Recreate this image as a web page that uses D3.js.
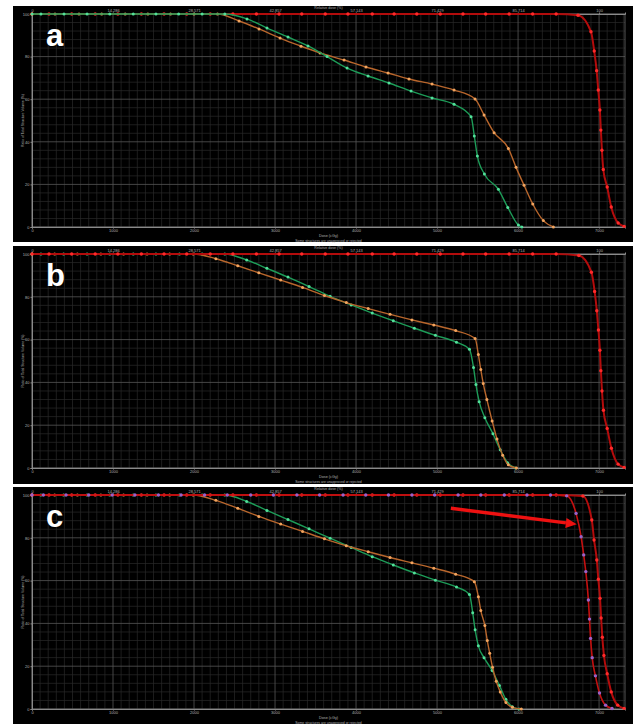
<!DOCTYPE html>
<html>
<head>
<meta charset="utf-8">
<script src="https://cdn.jsdelivr.net/npm/d3@7"></script>
<style>
  body { margin: 0; background: #fff; }
  svg { display: block; font-family: 'Liberation Sans', Arial, sans-serif; }
</style>
</head>
<body>
<svg id="chart" width="633" height="724"></svg>
<script>
(function (d3) {
  'use strict'
  // data [[[1
  const doseTicks = [0, 1000, 2000, 3000, 4000, 5000, 6000, 7000]
  const relDoseLabels = ['0', '14,286', '28,571', '42,857', '57,143', '71,429', '85,714', '100']
  const volumeTicks = [0, 20, 40, 60, 80, 100]
  const panelLetters = ['a', 'b', 'c']

  // [dose cGy, volume %] (one pair per marker)
  const redA = [[0, 100], [210, 100], [490, 100], [780, 100], [1060, 100], [1350, 100], [1630, 100], [1910, 100],
    [2200, 100], [2480, 100], [2770, 100], [3050, 100], [3330, 100], [3620, 100], [3900, 100], [4200, 100],
    [4470, 100], [4750, 100], [5040, 100], [5320, 100], [5600, 100], [5890, 100], [6180, 100], [6470, 100],
    [6740, 99.4], [6900, 91.7], [6940, 82.6], [6970, 73.4], [6990, 64.3], [7010, 54.9], [7022, 45.5],
    [7035, 36], [7052, 27], [7100, 18.8], [7150, 9.4], [7235, 1.9], [7310, 0.3]]
  const greenA = [[0, 100], [110, 100], [395, 100], [680, 100], [960, 100], [1250, 100], [1530, 100], [1810, 100],
    [2100, 100], [2380, 100], [2654, 97.7], [2901, 93.4], [3160, 89.2], [3407, 85.0], [3642, 80.0], [3889, 74.6],
    [4148, 70.9], [4407, 67.6], [4679, 63.8], [4938, 60.6], [5210, 57.6], [5420, 51.8], [5460, 42.7],
    [5498, 33.3], [5584, 24.9], [5757, 17.7], [5873, 9.2], [6004, 0.9], [6046, 0]]
  const orangeA = [[0, 100], [284, 100], [580, 100], [860, 100], [1150, 100], [1430, 100], [1710, 100], [2000, 100],
    [2290, 100], [2556, 96.7], [2802, 93], [3062, 88.7], [3321, 84.9], [3556, 81.7], [3852, 78.4], [4123, 75.1],
    [4395, 72.3], [4654, 69.5], [4938, 67.1], [5210, 64.3], [5469, 60.1], [5580, 52.6], [5704, 44.3],
    [5880, 36.9], [5975, 28], [6074, 19.6], [6181, 10.8], [6312, 3], [6436, 0]]

  const redB = [[0, 100], [210, 100], [490, 100], [780, 100], [1060, 100], [1350, 100], [1630, 100], [1910, 100],
    [2200, 100], [2480, 100], [2770, 100], [3050, 100], [3330, 100], [3620, 100], [3900, 100], [4200, 100],
    [4470, 100], [4750, 100], [5040, 100], [5320, 100], [5600, 100], [5890, 100], [6180, 100], [6470, 100],
    [6750, 99.3], [6905, 91.5], [6945, 82.5], [6972, 73.5], [6992, 64.5], [7010, 55], [7022, 45.5],
    [7036, 36], [7054, 27], [7100, 18.5], [7152, 9.2], [7235, 1.8], [7310, 0.3]]
  const greenB = [[0, 100], [110, 100], [390, 100], [680, 100], [960, 100], [1250, 100], [1530, 100], [1820, 100],
    [2100, 100], [2380, 100], [2650, 97.2], [2900, 93.3], [3160, 89.2], [3420, 84.8], [3680, 80.2], [3940, 76.2],
    [4200, 72.4], [4460, 68.8], [4720, 65.3], [4980, 62.0], [5240, 58.8], [5400, 55.5], [5450, 47], [5480, 39],
    [5520, 31], [5590, 23.5], [5690, 16], [5780, 8.5], [5870, 2.5], [5970, 0]]
  const orangeB = [[0, 100], [280, 100], [560, 100], [850, 100], [1130, 100], [1420, 100], [1700, 100], [1990, 100],
    [2270, 97.8], [2540, 94.5], [2800, 91.2], [3070, 87.8], [3340, 84.4], [3610, 80.6], [3880, 77.3], [4150, 74.5],
    [4420, 71.8], [4690, 69.2], [4960, 66.8], [5230, 64.2], [5470, 60.5], [5510, 53], [5540, 46], [5570, 39.5],
    [5615, 32], [5680, 22], [5740, 13.5], [5810, 6], [5880, 1.5], [5980, 0]]

  const redC = [[0, 100], [210, 100], [490, 100], [780, 100], [1060, 100], [1350, 100], [1630, 100], [1910, 100],
    [2200, 100], [2480, 100], [2770, 100], [3050, 100], [3330, 100], [3620, 100], [3900, 100], [4200, 100],
    [4470, 100], [4750, 100], [5040, 100], [5320, 100], [5600, 100], [5890, 100], [6180, 100], [6470, 100],
    [6800, 99.5], [6910, 88.3], [6938, 79], [6972, 69.6], [6991, 60.6], [7012, 51.7], [7025, 42.5],
    [7040, 33.5], [7060, 25], [7100, 16.5], [7150, 8], [7230, 1.8], [7310, 0.3]]
  const redShiftC = [[0, 100], [140, 100], [420, 100], [700, 100], [990, 100], [1270, 100], [1560, 100], [1840, 100],
    [2130, 100], [2410, 100], [2700, 100], [2980, 100], [3270, 100], [3550, 100], [3840, 100], [4120, 100],
    [4400, 100], [4690, 100], [4970, 100], [5260, 100], [5540, 100], [5830, 100], [6110, 100], [6400, 100],
    [6600, 99.6], [6716, 91.4], [6778, 80.5], [6810, 72], [6836, 64.2], [6868, 50.9], [6882, 42], [6895, 33],
    [6915, 24], [6955, 15.5], [7005, 7.5], [7080, 1.8], [7160, 0.2]]
  const greenC = [[0, 100], [110, 100], [390, 100], [680, 100], [960, 100], [1250, 100], [1530, 100], [1820, 100],
    [2100, 100], [2380, 100], [2650, 97], [2900, 92.8], [3160, 88.5], [3420, 84.2], [3680, 79.8], [3940, 75.5],
    [4200, 71.2], [4460, 67.3], [4720, 63.6], [4980, 60.2], [5240, 57], [5400, 53.5], [5440, 45], [5470, 37],
    [5510, 29.5], [5580, 24], [5680, 18], [5770, 11], [5850, 4.5], [5930, 1], [6010, 0]]
  const orangeC = [[0, 100], [280, 100], [560, 100], [850, 100], [1130, 100], [1420, 100], [1700, 100], [1990, 100],
    [2270, 97.5], [2540, 93.8], [2800, 90], [3070, 86.4], [3340, 83], [3610, 79.5], [3880, 76.3], [4150, 73.5],
    [4420, 70.8], [4690, 68.3], [4960, 65.8], [5230, 63], [5460, 59.5], [5510, 52.5], [5540, 46], [5590, 39],
    [5620, 32], [5650, 26], [5685, 19.5], [5730, 13], [5780, 8], [5850, 3], [5930, 0.8], [6040, 0]]

  // arrow in panel c, in data units (dose, volume)
  const arrowC = { from: [5170, 93.8], to: [6725, 86.3] }

  // styles [[[1
  const STYLE = {
    red: { line: '#b30c0c', dot: '#ff2a2a', width: 2, r: 1.7 },
    redShift: { line: '#c41010', dot: '#9a62c8', width: 1.6, r: 1.7 },
    green: { line: '#1d9c58', dot: '#52e09a', width: 1.4, r: 1.5 },
    orange: { line: '#b8662c', dot: '#f2a45e', width: 1.4, r: 1.5 }
  }

  const panels = [
    { top: 6, height: 236, y100: 14, y0: 227,
      series: [[redA, 'red'], [orangeA, 'orange'], [greenA, 'green']] },
    { top: 246, height: 238, y100: 254, y0: 468,
      series: [[greenB, 'green'], [orangeB, 'orange'], [redB, 'red']] },
    { top: 487, height: 237, y100: 495, y0: 709,
      series: [[greenC, 'green'], [orangeC, 'orange'], [redC, 'red'], [redShiftC, 'redShift']], arrow: arrowC }
  ]

  const svg = d3.select('#chart')
  const x = d3.scaleLinear().domain([0, 7320]).range([32, 625])

  // panel [[[1
  function drawPanel(p, i) {
    const g = svg.append('g')
    const y = d3.scaleLinear().domain([0, 100]).range([p.y0, p.y100])

    g.append('rect')
      .attr('x', 13).attr('y', p.top)
      .attr('width', 620).attr('height', p.height)
      .attr('fill', '#000')

    // grid
    g.append('g').selectAll('line')
      .data(d3.range(0, 7321, 100).filter(d => d % 1000 !== 0))
      .join('line')
      .attr('x1', d => x(d)).attr('x2', d => x(d))
      .attr('y1', y(0)).attr('y2', y(100))
      .attr('stroke', '#2a2a2a').attr('stroke-width', 0.7)
    g.append('g').selectAll('line')
      .data(d3.range(0, 101, 4).filter(d => d % 20 !== 0))
      .join('line')
      .attr('x1', x(0)).attr('x2', x(7320))
      .attr('y1', d => y(d)).attr('y2', d => y(d))
      .attr('stroke', '#2a2a2a').attr('stroke-width', 0.7)
    g.append('g').selectAll('line')
      .data(doseTicks)
      .join('line')
      .attr('x1', d => x(d)).attr('x2', d => x(d))
      .attr('y1', y(0)).attr('y2', y(100))
      .attr('stroke', '#575757').attr('stroke-width', 0.8)
    g.append('g').selectAll('line')
      .data(volumeTicks)
      .join('line')
      .attr('x1', x(0)).attr('x2', x(7320))
      .attr('y1', d => y(d)).attr('y2', d => y(d))
      .attr('stroke', '#575757').attr('stroke-width', 0.8)
    g.append('rect')
      .attr('x', x(0)).attr('y', y(100))
      .attr('width', x(7320) - x(0)).attr('height', y(0) - y(100))
      .attr('fill', 'none').attr('stroke', '#6a6a6a').attr('stroke-width', 0.8)

    // axes
    const styleAxis = sel => {
      sel.selectAll('.domain').attr('stroke', '#8a8a8a')
      sel.selectAll('.tick line').attr('stroke', '#8a8a8a')
      sel.selectAll('text').attr('fill', '#b0b0b0').style('font-size', '4px')
    }
    g.append('g')
      .attr('transform', `translate(0,${y(0)})`)
      .call(d3.axisBottom(x).tickValues(doseTicks).tickSize(1.5).tickPadding(1).tickFormat(d3.format('d')))
      .call(styleAxis)
    g.append('g')
      .attr('transform', `translate(0,${y(100)})`)
      .call(d3.axisTop(x).tickValues(doseTicks).tickSize(1.5).tickPadding(1).tickFormat((d, k) => relDoseLabels[k]))
      .call(styleAxis)
    g.append('g')
      .attr('transform', `translate(${x(0)},0)`)
      .call(d3.axisLeft(y).tickValues(volumeTicks).tickSize(1.5).tickPadding(1))
      .call(styleAxis)

    // titles
    const midX = (x(0) + x(7320)) / 2
    const small = (t, px, py, size) => g.append('text')
      .attr('x', px).attr('y', py)
      .attr('text-anchor', 'middle').attr('dominant-baseline', 'middle')
      .attr('fill', '#b0b0b0').style('font-size', size + 'px')
      .text(t)
    small('Relative dose (%)', midX, p.top + 2.5, 3.6)
    small('Dose (cGy)', midX, y(0) + 8.5, 3.8)
    small('Some structures are unapproved or rejected', midX, y(0) + 14.5, 3.4)
    small('Ratio of Total Structure Volume (%)', 0, 0, 3.4)
      .attr('transform', `translate(23,${(y(0) + y(100)) / 2}) rotate(-90)`)

    // curves
    const line = d3.line()
      .x(d => x(d[0]))
      .y(d => y(d[1]))
      .curve(d3.curveMonotoneX)
    p.series.forEach(([data, key]) => {
      const s = STYLE[key]
      g.append('path')
        .datum(data)
        .attr('d', line)
        .attr('fill', 'none')
        .attr('stroke', s.line)
        .attr('stroke-width', s.width)
      g.append('g').selectAll('circle')
        .data(data)
        .join('circle')
        .attr('cx', d => x(d[0]))
        .attr('cy', d => y(d[1]))
        .attr('r', s.r)
        .attr('fill', s.dot)
    })

    // arrow
    if (p.arrow) {
      const [x1, y1] = [x(p.arrow.from[0]), y(p.arrow.from[1])]
      const [x2, y2] = [x(p.arrow.to[0]), y(p.arrow.to[1])]
      const a = Math.atan2(y2 - y1, x2 - x1)
      const len = 11, hw = 5
      const bx = x2 - len * Math.cos(a), by = y2 - len * Math.sin(a)
      g.append('line')
        .attr('x1', x1).attr('y1', y1).attr('x2', bx).attr('y2', by)
        .attr('stroke', '#ee1111').attr('stroke-width', 3.4)
      g.append('path')
        .attr('d', `M${x2},${y2}L${bx - hw * Math.sin(a)},${by + hw * Math.cos(a)}L${bx + hw * Math.sin(a)},${by - hw * Math.cos(a)}Z`)
        .attr('fill', '#ee1111')
    }

    // panel letter
    g.append('text')
      .attr('x', 46).attr('y', p.top + 40)
      .attr('fill', '#fff')
      .style('font-size', '31px').style('font-weight', 'bold')
      .text(panelLetters[i])
  }

  panels.forEach(drawPanel)
}(d3))
</script>
</body>
</html>
